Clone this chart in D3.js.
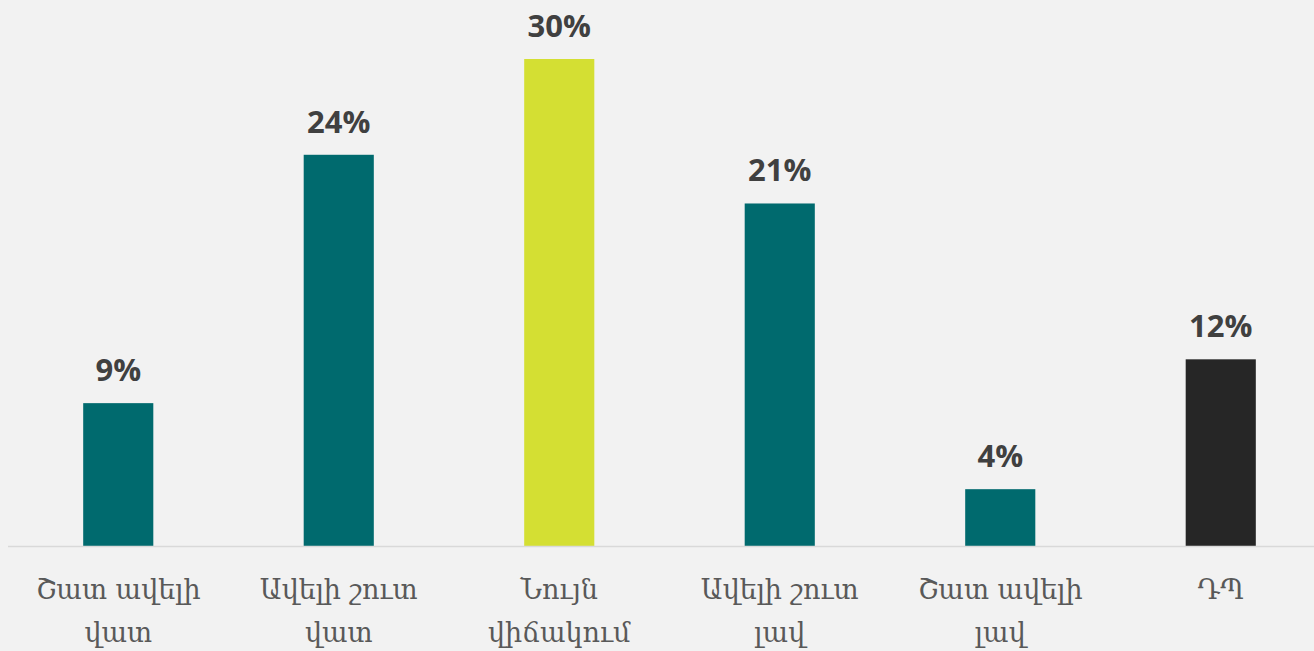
<!DOCTYPE html>
<html>
<head>
<meta charset="utf-8">
<script src="https://cdn.jsdelivr.net/npm/d3@7"></script>
<style>
  html, body { margin: 0; padding: 0; background: #f2f2f2; }
  svg { display: block; }
</style>
</head>
<body>
<svg id="chart" width="1314" height="651"></svg>
<script>
const categories = ["Շատ ավելի վատ", "Ավելի շուտ վատ", "Նույն վիճակում", "Ավելի շուտ լավ", "Շատ ավելի լավ", "ԴՊ"];
const values = [8.8, 24.1, 30.0, 21.1, 3.5, 11.5];
const valueLabels = ["9%", "24%", "30%", "21%", "4%", "12%"];
const barColors = ["#006a6e", "#006a6e", "#d4df33", "#006a6e", "#006a6e", "#262626"];

const W = 1314, H = 651;
const svg = d3.select("#chart");
svg.append("rect").attr("width", W).attr("height", H).attr("fill", "#f2f2f2");

const x = d3.scaleBand().domain(categories).range([8, 1331]).paddingInner(0.682).paddingOuter(0.341);
const y = d3.scaleLinear().domain([0, 30]).range([546, 59]);

svg.append("g").selectAll("rect").data(values).join("rect")
  .attr("x", (d, i) => x(categories[i]))
  .attr("width", x.bandwidth())
  .attr("y", d => y(d))
  .attr("height", d => y(0) - y(d))
  .attr("fill", (d, i) => barColors[i]);

svg.append("line")
  .attr("x1", 8).attr("x2", W)
  .attr("y1", 546.5).attr("y2", 546.5)
  .attr("stroke", "#d9d9d9").attr("stroke-width", 1.5);

svg.append("g").selectAll("text").data(values).join("text")
  .attr("x", (d, i) => x(categories[i]) + x.bandwidth() / 2)
  .attr("y", d => y(d) - 22)
  .attr("text-anchor", "middle")
  .attr("font-family", "'Open Sans', sans-serif")
  .attr("font-weight", "bold")
  .attr("font-size", 31)
  .attr("fill", "#404040")
  .text((d, i) => valueLabels[i]);

const catG = svg.append("g");
categories.forEach((c, i) => {
  const t = catG.append("text")
    .attr("x", x(c) + x.bandwidth() / 2)
    .attr("y", 599)
    .attr("text-anchor", "middle")
    .attr("font-family", "'DejaVu Serif', serif")
    .attr("font-size", 27)
    .attr("fill", "#595959");
  const words = c.split(" ");
  let line = [];
  let lineNo = 0;
  let tspan = t.append("tspan").attr("x", x(c) + x.bandwidth() / 2).attr("dy", 0);
  words.forEach(w => {
    line.push(w);
    tspan.text(line.join(" "));
    if (tspan.node().getComputedTextLength() > 185 && line.length > 1) {
      line.pop();
      tspan.text(line.join(" "));
      line = [w];
      lineNo++;
      tspan = t.append("tspan").attr("x", x(c) + x.bandwidth() / 2).attr("dy", 43).text(w);
    }
  });
});
</script>
</body>
</html>
